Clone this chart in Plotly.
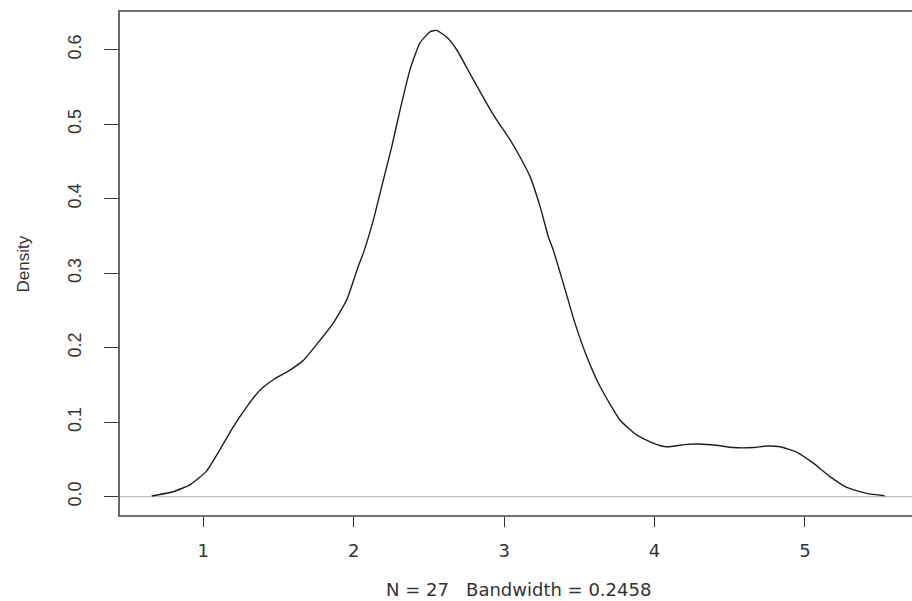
import plotly.graph_objects as go

# Kernel density estimate (N = 27, bandwidth 0.2458), sampled along the x range
dens_x = [0.657, 0.80, 0.91, 1.02, 1.11, 1.20, 1.29, 1.377, 1.465, 1.576, 1.665,
          1.776, 1.864, 1.953, 2.03, 2.064, 2.13, 2.197, 2.253, 2.308, 2.374,
          2.44, 2.507, 2.55, 2.618, 2.685, 2.773, 2.884, 2.95, 3.04, 3.106,
          3.172, 3.24, 3.294, 3.327, 3.394, 3.471, 3.55, 3.638, 3.77, 3.882,
          3.99, 4.08, 4.214, 4.30, 4.41, 4.524, 4.657, 4.746, 4.834, 4.945,
          5.056, 5.167, 5.278, 5.41, 5.53]
dens_y = [0.001, 0.0067, 0.016, 0.034, 0.063, 0.094, 0.121, 0.143, 0.157, 0.170,
          0.183, 0.210, 0.233, 0.264, 0.309, 0.327, 0.371, 0.425, 0.470, 0.519,
          0.573, 0.609, 0.624, 0.626, 0.617, 0.600, 0.568, 0.528, 0.506, 0.479,
          0.456, 0.430, 0.389, 0.349, 0.331, 0.286, 0.233, 0.188, 0.148, 0.103,
          0.083, 0.072, 0.067, 0.0703, 0.0707, 0.069, 0.066, 0.066, 0.068,
          0.067, 0.060, 0.045, 0.027, 0.0126, 0.0045, 0.0013]

x_ticks = [1, 2, 3, 4, 5]
y_ticks = [0.0, 0.1, 0.2, 0.3, 0.4, 0.5, 0.6]
y_tick_text = ["0.0", "0.1", "0.2", "0.3", "0.4", "0.5", "0.6"]

x_label = "N = 27\u00a0\u00a0\u00a0Bandwidth = 0.2458"
y_label = "Density"

ink = "#333333"

fig = go.Figure()
fig.add_trace(go.Scatter(
    x=dens_x, y=dens_y, mode="lines",
    line=dict(color="#1e1e1e", width=1.4, shape="spline", smoothing=0.5),
    hoverinfo="skip", showlegend=False,
))

fig.update_layout(
    width=912, height=601, autosize=False,
    margin=dict(l=119, r=0, t=11, b=85, pad=0),
    paper_bgcolor="white", plot_bgcolor="white",
    xaxis=dict(
        range=[0.4395, 5.712], tickmode="array", tickvals=x_ticks,
        ticks="outside", ticklen=10, tickwidth=1.3, tickcolor=ink,
        showgrid=False, zeroline=False, showline=False,
        tickfont=dict(family="DejaVu Sans", size=18, color=ink),
        ticklabelstandoff=8,
    ),
    yaxis=dict(
        range=[-0.0259, 0.652], tickmode="array", tickvals=y_ticks,
        ticktext=y_tick_text, tickangle=-90,
        ticks="outside", ticklen=14, tickwidth=1.3, tickcolor=ink,
        showgrid=False, zeroline=False, showline=False,
        tickfont=dict(family="Liberation Sans", size=18, color=ink),
        ticklabelstandoff=16,
    ),
    shapes=[
        # horizontal reference at zero density
        dict(type="line", xref="paper", yref="y", x0=0, x1=1, y0=0, y1=0,
             line=dict(color="#bebebe", width=1.2), layer="below"),
        # plot frame
        dict(type="rect", xref="paper", yref="paper", x0=0, x1=1.05, y0=0, y1=1,
             line=dict(color="#444444", width=1.6)),
    ],
    annotations=[
        dict(text=x_label, xref="paper", yref="paper", x=0.5044, y=-0.1465,
             xanchor="center", yanchor="middle", showarrow=False,
             font=dict(family="DejaVu Sans", size=18, color=ink)),
        dict(text=y_label, xref="paper", yref="paper", x=-0.1198, y=0.5,
             xanchor="center", yanchor="middle", showarrow=False, textangle=-90,
             font=dict(family="Liberation Sans", size=17, color=ink)),
    ],
)

fig.write_html("out.html")
